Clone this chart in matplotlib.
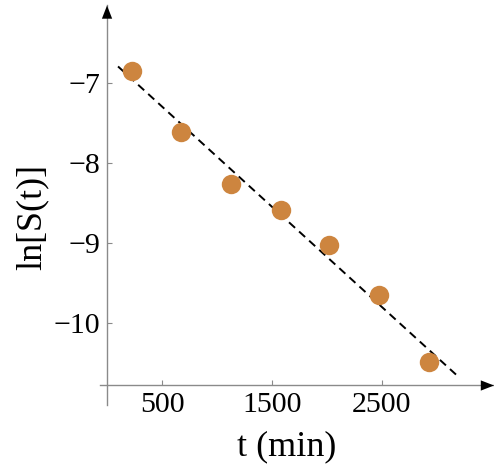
import numpy as np
import matplotlib
matplotlib.use("Agg")
import matplotlib.pyplot as plt

# data
t_min = [227, 673, 1127, 1582, 2018, 2473, 2927]
ln_S = [-6.85, -7.61, -8.26, -8.59, -9.03, -9.65, -10.49]
fit_t_range = [100, 3200]
x_ticks = [500, 1500, 2500]
y_ticks = [-7, -8, -9, -10]
x_label = "t (min)"
y_label = "ln[S(t)]"

plt.rcParams['font.family'] = ['Liberation Serif', 'DejaVu Serif']

W, H, DPI = 494, 470, 100
fig = plt.figure(figsize=(W / DPI, H / DPI), dpi=DPI)
ax = fig.add_axes([100 / W, 1 - 405.5 / H, 394 / W, 400 / H])

xlim = (-64, 3520)
ylim = (-11.03, -6.03)
x_axis_y = -10.78
ax.set_xlim(*xlim)
ax.set_ylim(*ylim)

axis_gray = '#8a8a8a'
for s in ['top', 'right']:
    ax.spines[s].set_visible(False)
ax.spines['left'].set_position(('data', 0))
ax.spines['bottom'].set_position(('data', x_axis_y))
for s in ['left', 'bottom']:
    ax.spines[s].set_color(axis_gray)
    ax.spines[s].set_linewidth(1.0)

ax.set_xticks(x_ticks)
ax.set_yticks(y_ticks)
ax.tick_params(axis='both', direction='in', length=3.5, width=0.8,
               color=axis_gray, labelsize=21.5, labelcolor='black')
ax.tick_params(axis='x', pad=5)
ax.tick_params(axis='y', pad=5)

# arrows
ax.annotate('', xy=(1.0, x_axis_y), xycoords=('axes fraction', 'data'),
            xytext=(0.95, x_axis_y), textcoords=('axes fraction', 'data'),
            arrowprops=dict(arrowstyle='-|>,head_length=0.95,head_width=0.37',
                            color='black', lw=0, shrinkA=0, shrinkB=0),
            annotation_clip=False)
ax.annotate('', xy=(0, 1.0), xycoords=('data', 'axes fraction'),
            xytext=(0, 0.95), textcoords=('data', 'axes fraction'),
            arrowprops=dict(arrowstyle='-|>,head_length=0.95,head_width=0.37',
                            color='black', lw=0, shrinkA=0, shrinkB=0),
            annotation_clip=False)

# fit line
coef = np.polyfit(t_min, ln_S, 1)
tf = np.array(fit_t_range, dtype=float)
ax.plot(tf, np.polyval(coef, tf), linestyle=(0, (4.2, 2.8)), color='black', lw=1.4, zorder=2)

# points
ax.plot(t_min, ln_S, 'o', color='#CD853F', markersize=14, markeredgewidth=0, zorder=3)

fig.text(287 / W, 1 - 447 / H, x_label, ha='center', va='center', fontsize=26)
fig.text(32 / W, 1 - 217 / H, y_label, ha='center', va='center', rotation=90, fontsize=26)

fig.savefig('out.png', dpi=DPI)
